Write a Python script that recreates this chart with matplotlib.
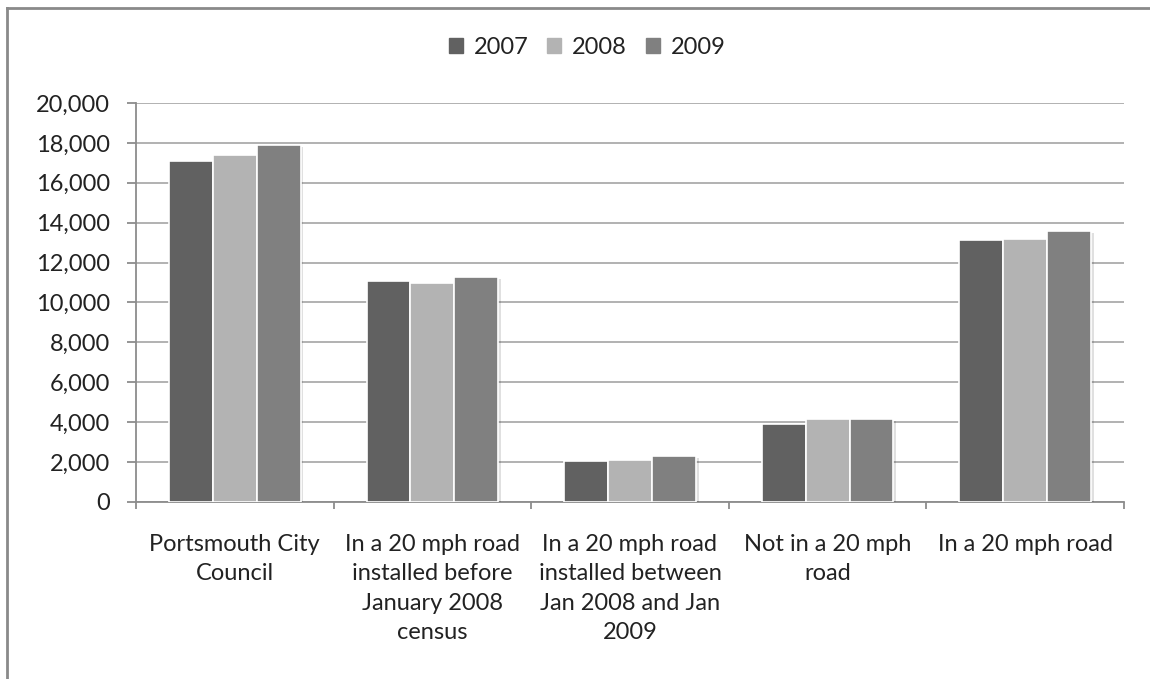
import matplotlib
matplotlib.use("Agg")
import matplotlib.pyplot as plt
import matplotlib.patheffects as pe
from matplotlib.lines import Line2D
import numpy as np

categories = [
    "Portsmouth City\nCouncil",
    "In a 20 mph road\ninstalled before\nJanuary 2008\ncensus",
    "In a 20 mph road\ninstalled between\nJan 2008 and Jan\n2009",
    "Not in a 20 mph\nroad",
    "In a 20 mph road",
]
years = ["2007", "2008", "2009"]
values_2007 = [17100, 11100, 2050, 3930, 13130]
values_2008 = [17400, 11000, 2130, 4160, 13180]
values_2009 = [17900, 11300, 2300, 4180, 13580]
y_ticks = [0, 2000, 4000, 6000, 8000, 10000, 12000, 14000, 16000, 18000, 20000]

colors = ["#616161", "#b3b3b3", "#808080"]
series = [values_2007, values_2008, values_2009]

plt.rcParams["font.family"] = ["Lato", "DejaVu Sans"]
FS = 17

W, H = 1150, 679
fig = plt.figure(figsize=(W / 100, H / 100), dpi=100)
ax = fig.add_axes([136 / W, (H - 502) / H, (1124 - 136) / W, (502 - 103) / H])

x = np.arange(len(categories))
bw = 0.222
shadow = [pe.SimplePatchShadow(offset=(2, -1.5), shadow_rgbFace="#000000", alpha=0.12), pe.Normal()]
for i, (vals, col) in enumerate(zip(series, colors)):
    bars = ax.bar(x + (i - 1) * bw, vals, width=bw, color=col, edgecolor="white",
                  linewidth=1.2, zorder=3, label=years[i])
    for b in bars:
        b.set_path_effects(shadow)

ax.set_xlim(-0.5, len(categories) - 0.5)
ax.set_ylim(0, 20000)
ax.set_yticks(y_ticks)
ax.set_yticklabels([f"{v:,}" for v in y_ticks])
ax.yaxis.grid(True, color="#ababab", linewidth=1.3, zorder=0)
ax.set_axisbelow(True)

ax.set_xticks(np.arange(-0.5, len(categories), 1.0))
ax.set_xticklabels([])
ax.set_xticks(x, minor=True)
ax.set_xticklabels(categories, minor=True, fontsize=FS, color="#222222",
                   linespacing=1.5, va="top")
ax.tick_params(axis="x", which="minor", length=0, pad=23)
ax.tick_params(axis="x", which="major", length=5, color="#8c8c8c", width=1.3)
ax.tick_params(axis="y", length=6.5, color="#8c8c8c", width=1.3, labelsize=FS,
               labelcolor="#222222", pad=12)

for s in ["top", "right"]:
    ax.spines[s].set_visible(False)
for s in ["left", "bottom"]:
    ax.spines[s].set_color("#8c8c8c")
    ax.spines[s].set_linewidth(1.3)

handles = [plt.Rectangle((0, 0), 1, 1, color=c) for c in colors]
fig.legend(handles, years, loc="center", bbox_to_anchor=(587 / W, 1 - 47 / H),
           ncol=3, frameon=False, fontsize=FS, handlelength=0.6, handleheight=0.6,
           handletextpad=0.45, columnspacing=0.8, labelcolor="#222222")

# outer frame
fig.add_artist(Line2D([7 / W, 1], [1 - 8 / H, 1 - 8 / H], transform=fig.transFigure,
                      color="#8a8a8a", linewidth=2))
fig.add_artist(Line2D([7 / W, 7 / W], [0, 1 - 8 / H], transform=fig.transFigure,
                      color="#8a8a8a", linewidth=2))

fig.savefig("out.png", dpi=100, facecolor="white")
